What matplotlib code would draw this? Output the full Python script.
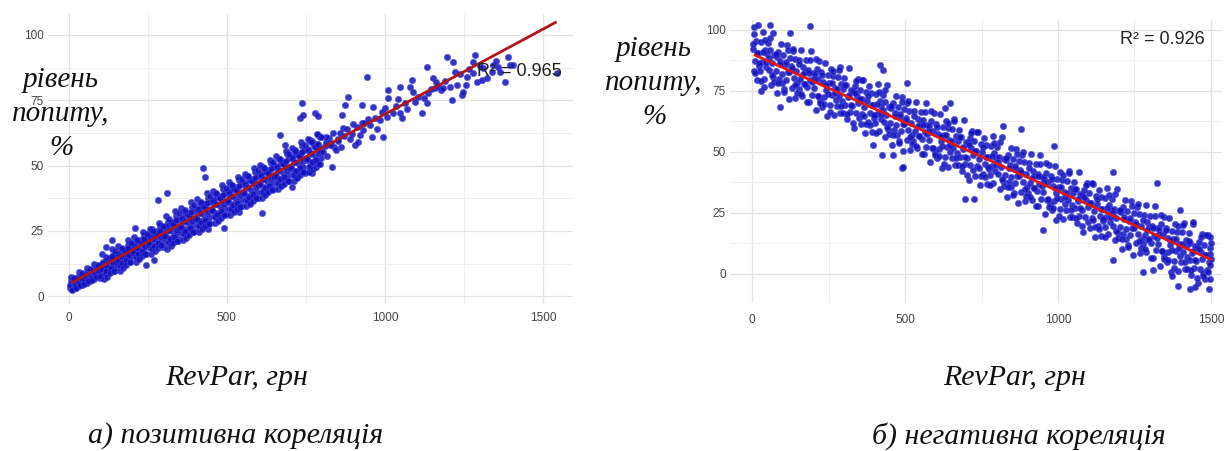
import matplotlib
matplotlib.use("Agg")
import matplotlib.pyplot as plt

# ---------------- data: panel a (positive correlation) ----------------
pos_revpar = [
    5, 8, 10, 12, 15, 18, 20, 23,
    27, 30, 33, 36, 40, 43, 46, 49,
    52, 55, 58, 61, 64, 68, 71, 74,
    77, 80, 83, 86, 89, 92, 95, 98,
    102, 105, 108, 111, 114, 117, 120, 123,
    127, 130, 133, 136, 139, 142, 145, 148,
    152, 155, 158, 161, 164, 167, 170, 173,
    177, 180, 183, 186, 189, 192, 195, 198,
    202, 205, 208, 211, 214, 217, 220, 223,
    227, 230, 233, 236, 239, 242, 245, 248,
    252, 255, 258, 261, 264, 267, 270, 273,
    277, 280, 283, 286, 289, 292, 295, 298,
    302, 305, 308, 311, 314, 317, 320, 323,
    327, 330, 333, 336, 339, 342, 345, 348,
    352, 355, 358, 361, 364, 367, 370, 373,
    377, 380, 383, 386, 389, 392, 395, 398,
    402, 405, 408, 411, 414, 417, 420, 423,
    427, 430, 433, 436, 439, 442, 445, 448,
    452, 455, 458, 461, 464, 467, 470, 473,
    477, 480, 483, 486, 489, 492, 495, 498,
    502, 505, 508, 511, 514, 517, 520, 523,
    527, 530, 533, 536, 539, 542, 545, 548,
    552, 555, 558, 561, 564, 567, 570, 573,
    577, 580, 583, 586, 589, 592, 595, 598,
    602, 605, 608, 611, 614, 617, 620, 623,
    627, 630, 633, 636, 639, 642, 645, 648,
    652, 655, 658, 661, 664, 667, 670, 673,
    677, 680, 683, 686, 689, 692, 695, 698,
    702, 705, 708, 711, 714, 717, 720, 723,
    727, 730, 733, 736, 739, 742, 745, 748,
    752, 756, 760, 764, 768, 772,
    778, 782, 786, 790, 794, 798,
    117, 136, 209, 282, 310, 440, 491, 424, 430, 538, 611, 668, 684, 705,
    731, 737, 778, 788, 741, 763, 788, 794, 832, 822, 830, 840, 769, 863,
    873, 883, 867, 905, 921, 927, 927, 943, 959, 952, 962, 984, 994, 1000,
    1010, 1010, 1025, 1047, 1047, 1054, 1079, 1085, 1095, 1117, 1133, 1133,
    1136, 1152, 1158, 1168, 1176, 1185, 1196, 1212, 1215, 1222, 1228, 1244,
    1247, 1259, 1278, 1285, 1278, 1291, 1307, 1310, 1323, 1339, 1342, 1358,
    1364, 1380, 1389, 1396, 1405, 1544,
    810, 815, 850, 858, 880, 895, 912, 935, 970, 1035, 1062, 1105, 1145,
    1190, 1238, 1265, 1300, 1350,
]
pos_demand = [
    3.2, 4.1, 2.8, 3.6, 4.5, 3.0, 5.2, 3.9,
    4.6, 5.8, 3.8, 6.5, 5.1, 4.3, 7.0, 5.6,
    6.2, 7.9, 5.0, 8.6, 6.8, 5.7, 9.3, 7.4,
    8.1, 6.5, 10.2, 7.6, 9.0, 11.4, 8.3, 7.0,
    10.0, 12.3, 8.4, 11.1, 9.6, 13.4, 10.8, 9.2,
    12.0, 14.6, 10.6, 13.1, 11.5, 15.9, 12.7, 10.9,
    13.6, 16.3, 12.2, 15.0, 17.8, 13.9, 11.8, 16.1,
    15.2, 17.6, 13.8, 19.4, 16.0, 14.5, 18.3, 20.2,
    16.9, 19.8, 15.4, 18.2, 21.5, 17.0, 14.6, 20.6,
    18.5, 21.9, 16.8, 20.1, 23.4, 19.0, 12.0, 22.1,
    20.2, 23.6, 18.3, 21.7, 25.8, 19.6, 13.8, 22.9,
    21.4, 24.8, 19.9, 23.3, 27.0, 21.0, 25.7, 18.8,
    23.1, 26.6, 21.5, 25.0, 28.5, 22.4, 27.4, 20.6,
    24.8, 28.3, 22.9, 26.7, 30.5, 24.0, 29.1, 21.9,
    26.2, 30.0, 24.3, 28.4, 32.2, 25.6, 30.9, 23.5,
    28.0, 31.7, 25.8, 30.1, 34.0, 27.3, 32.5, 25.0,
    29.6, 33.4, 27.2, 31.8, 35.8, 28.8, 34.3, 26.5,
    31.2, 35.1, 28.9, 33.5, 37.4, 30.4, 36.0, 28.0,
    32.8, 36.8, 30.5, 35.1, 39.2, 32.0, 37.8, 29.7,
    34.4, 38.4, 32.0, 36.7, 41.0, 33.6, 39.4, 31.3,
    36.0, 40.1, 33.5, 38.3, 42.6, 35.2, 41.1, 32.8,
    37.6, 41.7, 35.2, 40.0, 44.3, 36.8, 42.8, 34.5,
    39.2, 43.4, 36.7, 41.5, 45.9, 38.4, 44.4, 36.0,
    40.8, 45.0, 38.4, 43.2, 47.6, 40.0, 46.1, 37.7,
    42.4, 46.6, 40.0, 44.8, 49.3, 41.6, 47.8, 39.3,
    44.0, 48.2, 41.6, 46.4, 51.0, 43.2, 49.4, 40.9,
    45.6, 49.9, 43.2, 48.0, 52.6, 44.8, 51.1, 42.5,
    47.2, 51.5, 44.8, 49.6, 54.3, 46.4, 52.7, 44.1,
    48.8, 53.1, 46.4, 51.2, 56.0, 48.0, 54.4, 45.7,
    50.4, 54.8, 48.0, 52.8, 57.6, 49.6, 56.0, 47.3,
    52.1, 56.5, 49.6, 54.4, 59.2, 51.3,
    53.7, 58.1, 51.3, 56.0, 60.8, 52.9,
    18.8, 21.4, 26.0, 36.8, 39.4, 25.8, 26.0, 49.0, 45.6, 32.2, 32.0, 61.6, 57.8, 41.7,
    68.1, 73.9, 70.0, 68.9, 69.3, 59.7, 61.6, 56.6, 49.4, 60.5, 58.8, 57.2, 47.1, 69.3,
    73.1, 76.2, 64.3, 57.8, 61.6, 66.2, 73.1, 83.8, 60.9, 65.5, 72.4, 67.4, 60.9, 72.0,
    75.8, 78.9, 70.0, 80.0, 70.0, 68.1, 80.0, 82.7, 74.3, 70.0, 87.7, 73.9,
    77.7, 83.5, 79.5, 80.5, 78.8, 79.6, 91.5, 75.0, 89.6, 85.8, 80.8, 77.0,
    78.1, 83.8, 89.6, 92.3, 85.4, 81.9, 82.7, 87.3, 83.5, 85.8, 88.4, 87.7,
    85.8, 81.9, 91.5, 88.4, 88.4, 85.4,
    57.5, 59.0, 60.2, 62.5, 63.8, 62.0, 64.7, 66.4, 68.3, 72.6, 74.1, 76.4, 79.2,
    82.5, 84.9, 86.8, 88.0, 90.1,
]
# second, denser set of readings for panel a
pos_revpar_2 = [
    4, 7, 13, 16, 19, 24,
    29, 32, 38, 41, 44, 49,
    54, 57, 63, 66, 69, 74,
    79, 82, 88, 91, 94, 99,
    104, 107, 113, 116, 119, 124,
    129, 132, 138, 141, 144, 149,
    154, 157, 163, 166, 169, 174,
    179, 182, 188, 191, 194, 199,
    204, 207, 213, 216, 219, 224,
    229, 232, 238, 241, 244, 249,
    254, 257, 263, 266, 269, 274,
    279, 282, 288, 291, 294, 299,
    304, 307, 313, 316, 319, 324,
    329, 332, 338, 341, 344, 349,
    354, 357, 363, 366, 369, 374,
    379, 382, 388, 391, 394, 399,
    404, 407, 413, 416, 419, 424,
    429, 432, 438, 441, 444, 449,
    454, 457, 463, 466, 469, 474,
    479, 482, 488, 491, 494, 499,
    504, 507, 513, 516, 519, 524,
    529, 532, 538, 541, 544, 549,
    554, 557, 563, 566, 569, 574,
    579, 582, 588, 591, 594, 599,
    604, 607, 613, 616, 619, 624,
    629, 632, 638, 641, 644, 649,
    654, 657, 663, 666, 669, 674,
    679, 682, 688, 691, 694, 699,
    704, 707, 713, 716, 719, 724,
    729, 732, 738, 741, 744, 749,
    754, 757, 763, 766, 769, 774,
    779, 782, 788, 791, 794, 799,
    805, 812, 818, 826, 835, 845, 853, 862, 870, 888, 898, 915, 930, 948,
    975, 990, 1005, 1040, 1070, 1090, 1125, 1160, 1205, 1255,
]
pos_demand_2 = [
    4.4, 5.9, 3.2, 5.3, 3.8, 6.5,
    7.3, 5.2, 7.9, 6.4, 4.6, 6.7,
    7.7, 9.2, 6.5, 8.6, 7.1, 9.8,
    10.5, 8.4, 11.1, 9.6, 7.8, 9.9,
    10.5, 13.0, 8.5, 12.0, 9.5, 14.0,
    14.2, 10.7, 15.2, 12.7, 9.7, 13.2,
    13.8, 16.3, 11.8, 15.3, 12.8, 17.3,
    17.4, 13.9, 18.4, 15.9, 12.9, 16.4,
    17.1, 19.6, 15.1, 18.6, 16.1, 20.6,
    20.7, 17.2, 21.7, 19.2, 16.2, 19.7,
    20.3, 22.8, 18.3, 21.8, 19.3, 23.8,
    24.0, 20.5, 25.0, 22.5, 19.5, 23.0,
    23.2, 26.7, 20.4, 25.3, 21.8, 28.1,
    27.6, 22.7, 29.0, 25.5, 21.3, 26.2,
    26.5, 30.0, 23.7, 28.6, 25.1, 31.4,
    30.9, 26.0, 32.3, 28.8, 24.6, 29.5,
    29.7, 33.2, 26.9, 31.8, 28.3, 34.6,
    34.2, 29.3, 35.6, 32.1, 27.9, 32.8,
    33.0, 36.5, 30.2, 35.1, 31.6, 37.9,
    37.4, 32.5, 38.8, 35.3, 31.1, 36.0,
    36.3, 39.8, 33.5, 38.4, 34.9, 41.2,
    40.7, 35.8, 42.1, 38.6, 34.4, 39.3,
    39.5, 43.0, 36.7, 41.6, 38.1, 44.4,
    44.0, 39.1, 45.4, 41.9, 37.7, 42.6,
    42.8, 46.3, 40.0, 44.9, 41.4, 47.7,
    47.2, 42.3, 48.6, 45.1, 40.9, 45.8,
    46.1, 49.6, 43.3, 48.2, 44.7, 51.0,
    50.5, 45.6, 51.9, 48.4, 44.2, 49.1,
    49.3, 52.8, 46.5, 51.4, 47.9, 54.2,
    53.8, 48.9, 55.2, 51.7, 47.5, 52.4,
    52.6, 56.1, 49.8, 54.7, 51.2, 57.5,
    57.0, 52.1, 58.4, 54.9, 50.7, 55.6,
    55.0, 61.0, 53.5, 58.0, 62.4, 55.8, 59.5, 57.0, 61.2, 60.0, 66.0, 59.0, 63.5, 68.0,
    64.0, 70.5, 68.5, 75.5, 71.5, 78.0, 76.0, 82.0, 80.0, 81.0,
]
# third set: readings at the outer edges of the panel-a band
pos_revpar_3 = [
    6, 11, 17, 22, 31, 36, 42, 47, 56, 61, 67, 72, 81, 86, 92, 97,
    106, 111, 117, 122, 131, 136, 142, 147, 156, 161, 167, 172, 181, 186, 192, 197,
    206, 211, 217, 222, 231, 236, 242, 247, 256, 261, 267, 272, 281, 286, 292, 297,
    306, 311, 317, 322, 331, 336, 342, 347, 356, 361, 367, 372, 381, 386, 392, 397,
    406, 411, 417, 422, 431, 436, 442, 447, 456, 461, 467, 472, 481, 486, 492, 497,
    506, 511, 517, 522, 531, 536, 542, 547, 556, 561, 567, 572, 581, 586, 592, 597,
    606, 611, 617, 622, 631, 636, 642, 647, 656, 661, 667, 672, 681, 686, 692, 697,
    706, 711, 717, 722, 731, 736, 742, 747, 756, 761, 767, 772, 781, 786, 792, 797,
]
pos_demand_3 = [
    7.5, 2.5, 7.0, 3.0, 9.2, 4.2, 8.7, 4.7, 10.8, 5.8, 10.3, 6.3, 12.4, 7.4, 11.9, 7.9,
    16.0, 6.5, 15.0, 7.5, 8.7, 18.2, 9.7, 17.2, 19.3, 9.8, 18.3, 10.8, 11.9, 21.4, 12.9, 20.4,
    22.6, 13.1, 21.6, 14.1, 15.2, 24.7, 16.2, 23.7, 25.8, 16.3, 24.8, 17.3, 18.5, 28.0, 19.5, 27.0,
    30.6, 18.1, 29.6, 19.1, 20.2, 32.7, 21.2, 31.7, 33.9, 21.4, 32.9, 22.4, 23.5, 36.0, 24.5, 35.0,
    37.1, 24.6, 36.1, 25.6, 26.8, 39.3, 27.8, 38.3, 40.4, 27.9, 39.4, 28.9, 30.0, 42.5, 31.0, 41.5,
    43.7, 31.2, 42.7, 32.2, 33.3, 45.8, 34.3, 44.8, 46.9, 34.4, 45.9, 35.4, 36.6, 49.1, 37.6, 48.1,
    50.2, 37.7, 49.2, 38.7, 39.8, 52.3, 40.8, 51.3, 53.5, 41.0, 52.5, 42.0, 43.1, 55.6, 44.1, 54.6,
    56.7, 44.2, 55.7, 45.2, 46.4, 58.9, 47.4, 57.9, 60.0, 47.5, 59.0, 48.5, 49.6, 62.1, 50.6, 61.1,
]
pos_fit_revpar = [8, 1543]
pos_fit_demand = [5.1, 105.0]
pos_r2_label = "R² = 0.965"

# ---------------- data: panel b (negative correlation) ----------------
neg_revpar = [
    2, 5, 8, 11, 14, 17, 20, 23,
    27, 30, 33, 36, 39, 42, 45, 48,
    52, 55, 58, 61, 64, 67, 70, 73,
    77, 80, 83, 86, 89, 92, 95, 98,
    102, 105, 108, 111, 114, 117, 120, 123,
    127, 130, 133, 136, 139, 142, 145, 148,
    152, 155, 158, 161, 164, 167, 170, 173,
    177, 180, 183, 186, 189, 192, 195, 198,
    202, 205, 208, 211, 214, 217, 220, 223,
    227, 230, 233, 236, 239, 242, 245, 248,
    252, 255, 258, 261, 264, 267, 270, 273,
    277, 280, 283, 286, 289, 292, 295, 298,
    302, 305, 308, 311, 314, 317, 320, 323,
    327, 330, 333, 336, 339, 342, 345, 348,
    352, 355, 358, 361, 364, 367, 370, 373,
    377, 380, 383, 386, 389, 392, 395, 398,
    402, 405, 408, 411, 414, 417, 420, 423,
    427, 430, 433, 436, 439, 442, 445, 448,
    452, 455, 458, 461, 464, 467, 470, 473,
    477, 480, 483, 486, 489, 492, 495, 498,
    502, 505, 508, 511, 514, 517, 520, 523,
    527, 530, 533, 536, 539, 542, 545, 548,
    552, 555, 558, 561, 564, 567, 570, 573,
    577, 580, 583, 586, 589, 592, 595, 598,
    602, 605, 608, 611, 614, 617, 620, 623,
    627, 630, 633, 636, 639, 642, 645, 648,
    652, 655, 658, 661, 664, 667, 670, 673,
    677, 680, 683, 686, 689, 692, 695, 698,
    702, 705, 708, 711, 714, 717, 720, 723,
    727, 730, 733, 736, 739, 742, 745, 748,
    752, 755, 758, 761, 764, 767, 770, 773,
    777, 780, 783, 786, 789, 792, 795, 798,
    802, 805, 808, 811, 814, 817, 820, 823,
    827, 830, 833, 836, 839, 842, 845, 848,
    852, 855, 858, 861, 864, 867, 870, 873,
    877, 880, 883, 886, 889, 892, 895, 898,
    902, 905, 908, 911, 914, 917, 920, 923,
    927, 930, 933, 936, 939, 942, 945, 948,
    952, 955, 958, 961, 964, 967, 970, 973,
    977, 980, 983, 986, 989, 992, 995, 998,
    1002, 1005, 1008, 1011, 1014, 1017, 1020, 1023,
    1027, 1030, 1033, 1036, 1039, 1042, 1045, 1048,
    1052, 1055, 1058, 1061, 1064, 1067, 1070, 1073,
    1077, 1080, 1083, 1086, 1089, 1092, 1095, 1098,
    1102, 1105, 1108, 1111, 1114, 1117, 1120, 1123,
    1127, 1130, 1133, 1136, 1139, 1142, 1145, 1148,
    1152, 1155, 1158, 1161, 1164, 1167, 1170, 1173,
    1177, 1180, 1183, 1186, 1189, 1192, 1195, 1198,
    1202, 1205, 1208, 1211, 1214, 1217, 1220, 1223,
    1227, 1230, 1233, 1236, 1239, 1242, 1245, 1248,
    1252, 1255, 1258, 1261, 1264, 1267, 1270, 1273,
    1277, 1280, 1283, 1286, 1289, 1292, 1295, 1298,
    1302, 1305, 1308, 1311, 1314, 1317, 1320, 1323,
    1327, 1330, 1333, 1336, 1339, 1342, 1345, 1348,
    1352, 1355, 1358, 1361, 1364, 1367, 1370, 1373,
    1377, 1380, 1383, 1386, 1389, 1392, 1395, 1398,
    1402, 1405, 1408, 1411, 1414, 1417, 1420, 1423,
    1427, 1430, 1433, 1436, 1439, 1442, 1445, 1448,
    1452, 1455, 1458, 1461, 1464, 1467, 1470, 1473,
    1477, 1480, 1483, 1486, 1489, 1492, 1495, 1498,
    5, 18, 59, 124, 190, 30, 40, 91, 395, 425, 461, 490, 428, 418, 507, 494,
    647, 631, 696, 725, 820, 879, 951, 987, 1323, 1180, 1180, 1278, 1311,
    1372, 1392, 1431, 1448, 1474, 1399, 1441, 1496, 1499, 1497, 1500, 1498,
]
neg_demand = [
    92.3, 83.3, 98.3, 87.3, 95.3, 79.3, 90.3, 85.3,
    82.9, 94.9, 86.9, 98.9, 79.9, 91.9, 84.9, 89.9,
    94.5, 83.5, 91.5, 77.5, 86.5, 98.5, 80.5, 89.5,
    83.0, 89.0, 74.0, 91.0, 80.0, 87.0, 94.0, 78.0,
    89.6, 75.6, 85.6, 79.6, 93.6, 82.6, 71.6, 88.6,
    85.2, 76.2, 91.2, 80.2, 88.2, 72.2, 83.2, 78.2,
    75.8, 87.8, 79.8, 91.8, 72.8, 84.8, 77.8, 82.8,
    87.4, 76.4, 83.4, 70.4, 79.4, 91.4, 73.4, 82.4,
    76.0, 82.0, 67.0, 84.0, 73.0, 80.0, 87.0, 71.0,
    82.5, 68.5, 78.5, 72.5, 86.5, 75.5, 64.5, 81.5,
    78.1, 69.1, 84.1, 73.1, 81.1, 65.1, 76.1, 71.1,
    68.7, 80.7, 72.7, 84.7, 65.7, 77.7, 70.7, 75.7,
    80.3, 69.3, 77.3, 63.3, 72.3, 84.3, 66.3, 75.3,
    68.9, 74.9, 59.9, 76.9, 65.9, 72.9, 79.9, 63.9,
    75.5, 61.5, 71.5, 65.5, 79.5, 68.5, 57.5, 74.5,
    71.0, 62.0, 77.0, 66.0, 74.0, 58.0, 69.0, 64.0,
    61.6, 73.6, 65.6, 77.6, 58.6, 70.6, 63.6, 68.6,
    73.2, 62.2, 70.2, 56.2, 65.2, 77.2, 59.2, 68.2,
    61.8, 67.8, 52.8, 69.8, 58.8, 65.8, 72.8, 56.8,
    68.4, 54.4, 64.4, 58.4, 72.4, 61.4, 50.4, 67.4,
    63.9, 54.9, 69.9, 58.9, 66.9, 50.9, 61.9, 56.9,
    54.5, 66.5, 58.5, 70.5, 51.5, 63.5, 56.5, 61.5,
    66.1, 55.1, 63.1, 49.1, 58.1, 70.1, 52.1, 61.1,
    54.7, 60.7, 45.7, 62.7, 51.7, 58.7, 65.7, 49.7,
    61.3, 47.3, 57.3, 51.3, 65.3, 54.3, 43.3, 60.3,
    56.8, 47.8, 62.8, 51.8, 59.8, 43.8, 54.8, 49.8,
    47.4, 59.4, 51.4, 63.4, 44.4, 56.4, 49.4, 54.4,
    59.0, 48.0, 56.0, 42.0, 51.0, 63.0, 45.0, 54.0,
    47.6, 53.6, 38.6, 55.6, 44.6, 51.6, 58.6, 42.6,
    54.2, 40.2, 50.2, 44.2, 58.2, 47.2, 36.2, 53.2,
    49.8, 40.8, 55.8, 44.8, 52.8, 36.8, 47.8, 42.8,
    40.3, 52.3, 44.3, 56.3, 37.3, 49.3, 42.3, 47.3,
    51.9, 40.9, 47.9, 34.9, 43.9, 55.9, 37.9, 46.9,
    40.5, 46.5, 31.5, 48.5, 37.5, 44.5, 51.5, 35.5,
    47.1, 33.1, 43.1, 37.1, 51.1, 40.1, 29.1, 46.1,
    42.7, 33.7, 48.7, 37.7, 45.7, 29.7, 40.7, 35.7,
    33.2, 45.2, 37.2, 49.2, 30.2, 42.2, 35.2, 40.2,
    44.8, 33.8, 40.8, 27.8, 36.8, 48.8, 30.8, 39.8,
    33.4, 39.4, 24.4, 41.4, 30.4, 37.4, 44.4, 28.4,
    40.0, 26.0, 36.0, 30.0, 44.0, 33.0, 22.0, 39.0,
    35.6, 26.6, 41.6, 30.6, 38.6, 22.6, 33.6, 28.6,
    26.2, 38.2, 30.2, 42.2, 23.2, 35.2, 28.2, 33.2,
    37.8, 26.8, 34.8, 20.8, 29.8, 41.8, 23.8, 32.8,
    26.3, 32.3, 17.3, 34.3, 23.3, 30.3, 37.3, 21.3,
    32.9, 18.9, 28.9, 22.9, 36.9, 25.9, 14.9, 31.9,
    28.5, 19.5, 34.5, 23.5, 31.5, 15.5, 26.5, 21.5,
    19.1, 31.1, 23.1, 35.1, 16.1, 28.1, 21.1, 26.1,
    30.7, 19.7, 26.7, 13.7, 22.7, 34.7, 16.7, 25.7,
    19.3, 25.3, 10.3, 27.3, 16.3, 23.3, 30.3, 14.3,
    25.8, 11.8, 21.8, 15.8, 29.8, 18.8, 7.8, 24.8,
    21.4, 12.4, 27.4, 16.4, 24.4, 8.4, 19.4, 14.4,
    12.0, 24.0, 16.0, 28.0, 9.0, 21.0, 14.0, 19.0,
    23.6, 12.6, 19.6, 6.6, 15.6, 27.6, 9.6, 18.6,
    12.2, 18.2, 3.2, 20.2, 9.2, 16.2, 23.2, 7.2,
    18.7, 4.7, 14.7, 8.7, 22.7, 11.7, 0.7, 17.7,
    14.3, 5.3, 20.3, 9.3, 17.3, 1.3, 12.3, 7.3,
    4.9, 16.9, 8.9, 20.9, 1.9, 13.9, 6.9, 11.9,
    16.5, 5.5, 12.5, -0.5, 8.5, 20.5, 2.5, 11.5,
    5.1, 11.1, -3.9, 13.1, 2.1, 9.1, 16.1, 0.1,
    11.7, -2.3, 7.7, 1.7, 15.7, 4.7, -6.3, 10.7,
    101.0, 102.0, 102.0, 98.8, 101.6, 75.0, 76.5, 68.5, 52.9, 48.8, 48.8, 43.4, 83.6, 85.7, 78.3, 43.9,
    70.0, 68.0, 30.7, 30.7, 60.7, 59.4, 18.0, 52.5, 37.2, 41.8, 5.7, 0.9, 1.6,
    -1.1, -4.9, -6.2, -5.4, -1.1, 26.2, 21.3, 8.0, 12.5, 3.5, 6.0, 15.0,
]
# second, denser set of readings for panel b
neg_revpar_2 = [
    4, 10, 16, 22, 29, 35, 41, 47, 54, 60, 66, 72, 79, 85, 91, 97,
    104, 110, 116, 122, 129, 135, 141, 147, 154, 160, 166, 172, 179, 185, 191, 197,
    204, 210, 216, 222, 229, 235, 241, 247, 254, 260, 266, 272, 279, 285, 291, 297,
    304, 310, 316, 322, 329, 335, 341, 347, 354, 360, 366, 372, 379, 385, 391, 397,
    404, 410, 416, 422, 429, 435, 441, 447, 454, 460, 466, 472, 479, 485, 491, 497,
    504, 510, 516, 522, 529, 535, 541, 547, 554, 560, 566, 572, 579, 585, 591, 597,
    604, 610, 616, 622, 629, 635, 641, 647, 654, 660, 666, 672, 679, 685, 691, 697,
    704, 710, 716, 722, 729, 735, 741, 747, 754, 760, 766, 772, 779, 785, 791, 797,
    804, 810, 816, 822, 829, 835, 841, 847, 854, 860, 866, 872, 879, 885, 891, 897,
    904, 910, 916, 922, 929, 935, 941, 947, 954, 960, 966, 972, 979, 985, 991, 997,
    1004, 1010, 1016, 1022, 1029, 1035, 1041, 1047, 1054, 1060, 1066, 1072, 1079, 1085, 1091, 1097,
    1104, 1110, 1116, 1122, 1129, 1135, 1141, 1147, 1154, 1160, 1166, 1172, 1179, 1185, 1191, 1197,
    1204, 1210, 1216, 1222, 1229, 1235, 1241, 1247, 1254, 1260, 1266, 1272, 1279, 1285, 1291, 1297,
    1304, 1310, 1316, 1322, 1329, 1335, 1341, 1347, 1354, 1360, 1366, 1372, 1379, 1385, 1391, 1397,
    1404, 1410, 1416, 1422, 1429, 1435, 1441, 1447, 1454, 1460, 1466, 1472, 1479, 1485, 1491, 1497,
]
neg_demand_2 = [
    94.3, 82.3, 90.3, 86.3, 78.9, 90.9, 95.9, 86.9, 88.5, 96.5, 81.5, 78.5, 90.0, 78.0, 86.0, 82.0,
    74.6, 86.6, 91.6, 82.6, 84.2, 92.2, 77.2, 74.2, 85.8, 73.8, 81.8, 77.8, 70.4, 82.4, 87.4, 78.4,
    80.0, 88.0, 73.0, 70.0, 81.5, 69.5, 77.5, 73.5, 66.1, 78.1, 83.1, 74.1, 75.7, 83.7, 68.7, 65.7,
    77.3, 65.3, 73.3, 69.3, 61.9, 73.9, 78.9, 69.9, 71.5, 79.5, 64.5, 61.5, 73.0, 61.0, 69.0, 65.0,
    57.6, 69.6, 74.6, 65.6, 67.2, 75.2, 60.2, 57.2, 68.8, 56.8, 64.8, 60.8, 53.4, 65.4, 70.4, 61.4,
    63.0, 71.0, 56.0, 53.0, 64.5, 52.5, 60.5, 56.5, 49.1, 61.1, 66.1, 57.1, 58.7, 66.7, 51.7, 48.7,
    60.3, 48.3, 56.3, 52.3, 44.9, 56.9, 61.9, 52.9, 54.5, 62.5, 47.5, 44.5, 56.0, 44.0, 52.0, 48.0,
    40.6, 52.6, 57.6, 48.6, 50.2, 58.2, 43.2, 40.2, 51.8, 39.8, 47.8, 43.8, 36.4, 48.4, 53.4, 44.4,
    46.0, 54.0, 39.0, 36.0, 47.5, 35.5, 43.5, 39.5, 32.1, 44.1, 49.1, 40.1, 41.7, 49.7, 34.7, 31.7,
    43.3, 31.3, 39.3, 35.3, 27.9, 39.9, 44.9, 35.9, 37.5, 45.5, 30.5, 27.5, 39.0, 27.0, 35.0, 31.0,
    23.6, 35.6, 40.6, 31.6, 33.2, 41.2, 26.2, 23.2, 34.8, 22.8, 30.8, 26.8, 19.4, 31.4, 36.4, 27.4,
    29.0, 37.0, 22.0, 19.0, 30.5, 18.5, 26.5, 22.5, 15.1, 27.1, 32.1, 23.1, 24.7, 32.7, 17.7, 14.7,
    26.3, 14.3, 22.3, 18.3, 10.9, 22.9, 27.9, 18.9, 20.5, 28.5, 13.5, 10.5, 22.1, 10.1, 18.1, 14.1,
    6.6, 18.6, 23.6, 14.6, 16.2, 24.2, 9.2, 6.2, 17.8, 5.8, 13.8, 9.8, 2.4, 14.4, 19.4, 10.4,
    12.0, 20.0, 5.0, 2.0, 13.5, 1.5, 9.5, 5.5, -1.9, 10.1, 15.1, 6.1, 7.7, 15.7, 0.7, -2.3,
]
neg_fit_revpar = [6, 1502]
neg_fit_demand = [89.8, 5.7]
neg_r2_label = "R² = 0.926"

x_ticks = [0, 500, 1000, 1500]
x_minor = [250, 750, 1250]
y_ticks = [0, 25, 50, 75, 100]
y_minor = [12.5, 37.5, 62.5, 87.5]

ylab_text = "рівень\nпопиту,\n%"
xlab_text = "RevPar, грн"
cap_a = "а) позитивна кореляція"
cap_b = "б) негативна кореляція"

# ---------------- drawing ----------------
W, H = 1224, 451
fig = plt.figure(figsize=(W / 100, H / 100), dpi=100)
fig.patch.set_facecolor("white")

serif = ["Liberation Serif", "DejaVu Serif"]
narrow = ["Liberation Sans Narrow", "Liberation Sans", "DejaVu Sans"]


def px_box(x0, y0, x1, y1):
    return [x0 / W, 1 - y1 / H, (x1 - x0) / W, (y1 - y0) / H]


def style_axes(ax, xlim, ylim, xpad, ypad):
    ax.set_xlim(*xlim)
    ax.set_ylim(*ylim)
    ax.set_xticks(x_ticks)
    ax.set_xticks(x_minor, minor=True)
    ax.set_yticks(y_ticks)
    ax.set_yticks(y_minor, minor=True)
    ax.set_xticklabels([str(v) for v in x_ticks], fontfamily=narrow,
                       fontsize=8.5, color="#444444")
    ax.set_yticklabels([str(v) for v in y_ticks], fontfamily=narrow,
                       fontsize=8.5, color="#444444")
    ax.tick_params(which="both", length=0)
    ax.tick_params(axis="x", pad=xpad)
    ax.tick_params(axis="y", pad=ypad)
    for s in ax.spines.values():
        s.set_visible(False)
    ax.grid(which="major", color="#e2e2e2", lw=0.9)
    ax.grid(which="minor", color="#eeeeee", lw=0.7)
    ax.set_axisbelow(True)


pt_kw = dict(s=21, color="#1212bb", alpha=0.85, edgecolors="#4a4ae6",
             linewidths=0.4, zorder=2)

# panel a
ax1 = fig.add_axes(px_box(48, 14, 573, 304))
style_axes(ax1, (-66, 1595), (-3, 108), 6, 3)
ax1.scatter(pos_revpar + pos_revpar_2 + pos_revpar_3,
            pos_demand + pos_demand_2 + pos_demand_3, **pt_kw)
ax1.plot(pos_fit_revpar, pos_fit_demand, color="#b0151a", lw=2.0, zorder=3,
         solid_capstyle="butt")
ax1.text(1424, 86.1, pos_r2_label, fontfamily=narrow, fontsize=13,
         color="#222222", ha="center", va="center", zorder=4)

# panel b
ax2 = fig.add_axes(px_box(730, 20, 1222, 303))
style_axes(ax2, (-72, 1536), (-12, 104), 8, 3)
ax2.scatter(neg_revpar + neg_revpar_2, neg_demand + neg_demand_2, **pt_kw)
ax2.plot(neg_fit_revpar, neg_fit_demand, color="#dd1515", lw=2.0, zorder=3,
         solid_capstyle="butt")
ax2.text(1340, 95.9, neg_r2_label, fontfamily=narrow, fontsize=13,
         color="#222222", ha="center", va="center", zorder=4)

# texts around the panels
txt_kw = dict(fontfamily=serif, fontstyle="italic", color="#111111",
              ha="center", va="center")
fig.text(61 / W, 1 - 114 / H, ylab_text, fontsize=21, linespacing=1.38, **txt_kw)
fig.text(654 / W, 1 - 83 / H, ylab_text, fontsize=21, linespacing=1.42, **txt_kw)
fig.text(237 / W, 1 - 378 / H, xlab_text, fontsize=21.5, **txt_kw)
fig.text(1015 / W, 1 - 378 / H, xlab_text, fontsize=21.5, **txt_kw)
fig.text(236 / W, 1 - 436 / H, cap_a, fontsize=21.5, **txt_kw)
fig.text(1019 / W, 1 - 436 / H, cap_b, fontsize=21.5, **txt_kw)

fig.savefig("out.png", dpi=100, facecolor="white")
